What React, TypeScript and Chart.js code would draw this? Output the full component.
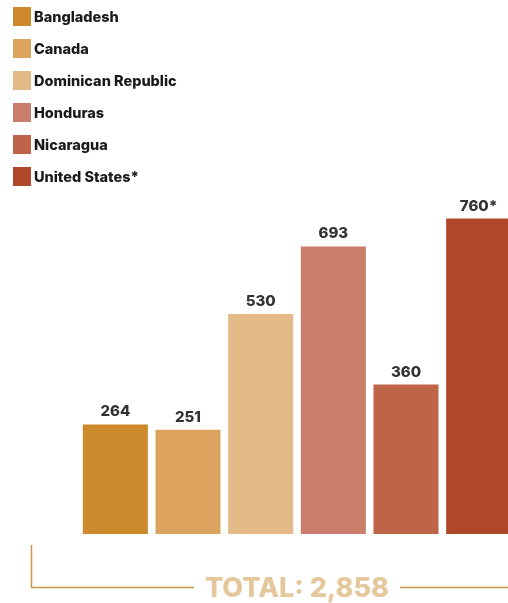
import React, { useEffect, useRef } from "react";
import { Chart, registerables } from "chart.js";

Chart.register(...registerables);

const categories = ["Bangladesh", "Canada", "Dominican Republic", "Honduras", "Nicaragua", "United States*"];
const values = [264, 251, 530, 693, 360, 760];
const valueSuffixes = ["", "", "", "", "", "*"];
const colors = ["#CD8A2C", "#DCA45F", "#E2B987", "#C97E6C", "#BE6549", "#AF4828"];
const totalLabel = "TOTAL";

const FONT = "Inter, 'Noto Sans', sans-serif";

const valueLabelPlugin = {
  id: "valueLabels",
  afterDatasetsDraw(chart: any) {
    const ctx = chart.ctx;
    const meta = chart.getDatasetMeta(0);
    ctx.save();
    ctx.font = `800 15px ${FONT}`;
    ctx.fillStyle = "#333333";
    ctx.textAlign = "center";
    ctx.textBaseline = "alphabetic";
    meta.data.forEach((bar: any, i: number) => {
      ctx.fillText(`${values[i]}${valueSuffixes[i]}`, bar.x, bar.y - 8);
    });
    ctx.restore();
  },
};

const totalPlugin = {
  id: "totalBracket",
  afterDraw(chart: any) {
    const ctx = chart.ctx;
    const total = values.reduce((a, b) => a + b, 0);
    const text = `${totalLabel}: ${total.toLocaleString("en-US")}`;
    ctx.save();
    ctx.font = `800 27px ${FONT}`;
    const w = ctx.measureText(text).width;
    const cx = 297;
    const lineY = 587.5;
    ctx.fillStyle = "#E4C89B";
    ctx.textAlign = "center";
    ctx.textBaseline = "alphabetic";
    ctx.fillText(text, cx, 597);
    ctx.strokeStyle = "#C8974A";
    ctx.lineWidth = 1.5;
    ctx.beginPath();
    ctx.moveTo(31.5, 545);
    ctx.lineTo(31.5, lineY);
    ctx.lineTo(cx - w / 2 - 11, lineY);
    ctx.moveTo(cx + w / 2 + 11, lineY);
    ctx.lineTo(chart.width, lineY);
    ctx.stroke();
    ctx.restore();
  },
};

export default function App() {
  const canvasRef = useRef<HTMLCanvasElement | null>(null);

  useEffect(() => {
    if (!canvasRef.current) return;
    const chart = new Chart(canvasRef.current, {
      type: "bar",
      data: {
        labels: categories,
        datasets: [
          {
            data: values,
            backgroundColor: colors,
            borderWidth: 0,
            barPercentage: 0.895,
            categoryPercentage: 1,
          },
        ],
      },
      options: {
        animation: false,
        responsive: false,
        devicePixelRatio: 1,
        layout: { padding: { left: 79, right: 15, top: 202, bottom: 69 } },
        plugins: { legend: { display: false }, tooltip: { enabled: false } },
        scales: {
          x: { display: false, offset: true },
          y: { display: false, min: 0, max: 800 },
        },
      },
      plugins: [valueLabelPlugin, totalPlugin],
    });
    return () => chart.destroy();
  }, []);

  return (
    <div
      style={{
        position: "fixed",
        left: 0,
        top: 0,
        width: 508,
        height: 603,
        overflow: "hidden",
        background: "#ffffff",
      }}
    >
      <canvas ref={canvasRef} width={530} height={603} style={{ position: "absolute", left: 0, top: 0 }} />
      {categories.map((c, i) => (
        <div
          key={c}
          style={{
            position: "absolute",
            left: 13,
            top: 7 + i * 32,
            height: 19,
            display: "flex",
            alignItems: "center",
            fontFamily: FONT,
            fontWeight: 800,
            fontSize: 14.5,
            color: "#1A1A1A",
            whiteSpace: "nowrap",
          }}
        >
          <span style={{ display: "inline-block", width: 18, height: 19, background: colors[i], marginRight: 3 }} />
          <span>{c}</span>
        </div>
      ))}
    </div>
  );
}
